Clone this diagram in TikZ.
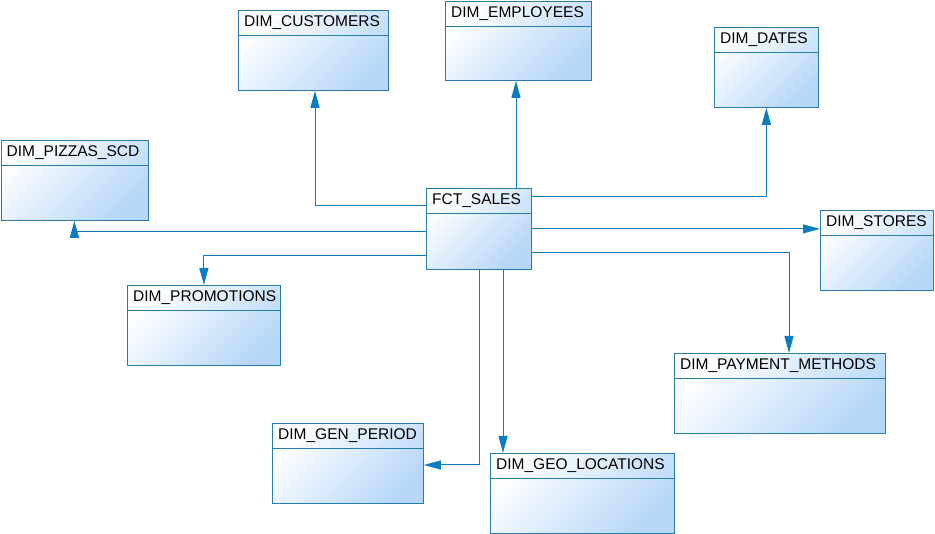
\documentclass[tikz,border=0pt]{standalone}
\usepackage{fontspec}
\setmainfont{Liberation Sans}
\usetikzlibrary{arrows.meta}
\definecolor{tborder}{RGB}{40,125,170}
\definecolor{tfill}{RGB}{182,215,247}
\definecolor{linkblue}{RGB}{10,125,190}
\newcommand{\dimtable}[6]{%
    \node[tbl, minimum width=#4pt, minimum height=#5pt] (#1) at (#2,#3) {};
    \node[ttl] (#1-t) at ([yshift=-12.5pt]#1.north west) {#6};
    \draw[tborder, line width=0.8pt] ([yshift=-25pt]#1.north west) -- ([yshift=-25pt]#1.north east);
}

\begin{document}
\begin{tikzpicture}[x=1pt, y=-1pt,
    tbl/.style={rectangle, draw=tborder, line width=0.8pt, anchor=north west, inner sep=0pt,
        top color=white, bottom color=tfill, shading angle=45},
    ttl/.style={anchor=west, inner xsep=6pt, font=\fontsize{15.5pt}{18pt}\selectfont},
    link/.style={draw=linkblue, line width=1pt, -{Triangle[length=17pt,width=9pt]}}]
    \useasboundingbox (0,0) rectangle (935,534);
    \dimtable{cust}{238}{10}{150}{80}{DIM\_CUSTOMERS}
    \dimtable{emp}{445}{1}{146}{79}{DIM\_EMPLOYEES}
    \dimtable{dates}{714}{27}{104}{80}{DIM\_DATES}
    \dimtable{pizzas}{0.5}{140}{147}{80}{DIM\_PIZZAS\_SCD}
    \dimtable{sales}{426}{188}{105}{81}{FCT\_SALES}
    \dimtable{stores}{820}{210}{113}{80}{DIM\_STORES}
    \dimtable{promo}{127}{285}{153}{80}{DIM\_PROMOTIONS}
    \dimtable{pay}{674}{353}{211}{80}{DIM\_PAYMENT\_METHODS}
    \dimtable{gen}{272}{423}{151}{80}{DIM\_GEN\_PERIOD}
    \dimtable{geo}{490}{453}{184}{80}{DIM\_GEO\_LOCATIONS}
    \draw[link] ([yshift=-18pt]sales.north west) -| ([xshift=77pt]cust.south west);
    \draw[link] ([xshift=90pt]sales.north west) -- ([xshift=71pt]emp.south west);
    \draw[link] ([yshift=-9pt]sales.north east) -| (dates.south);
    \draw[link] ([yshift=-44pt]sales.north west) -| (pizzas.south);
    \draw[link] (sales.east) -- (sales.east -| stores.west);
    \draw[link] ([yshift=-68pt]sales.north west) -| (promo.north);
    \draw[link] ([yshift=-65pt]sales.north east) -| ([xshift=115pt]pay.north west);
    \draw[link] ([xshift=53pt]sales.south west) |- ([yshift=-42pt]gen.north east);
    \draw[link] ([xshift=77pt]sales.south west) -- ([xshift=13pt]geo.north west);
\end{tikzpicture}
\end{document}
